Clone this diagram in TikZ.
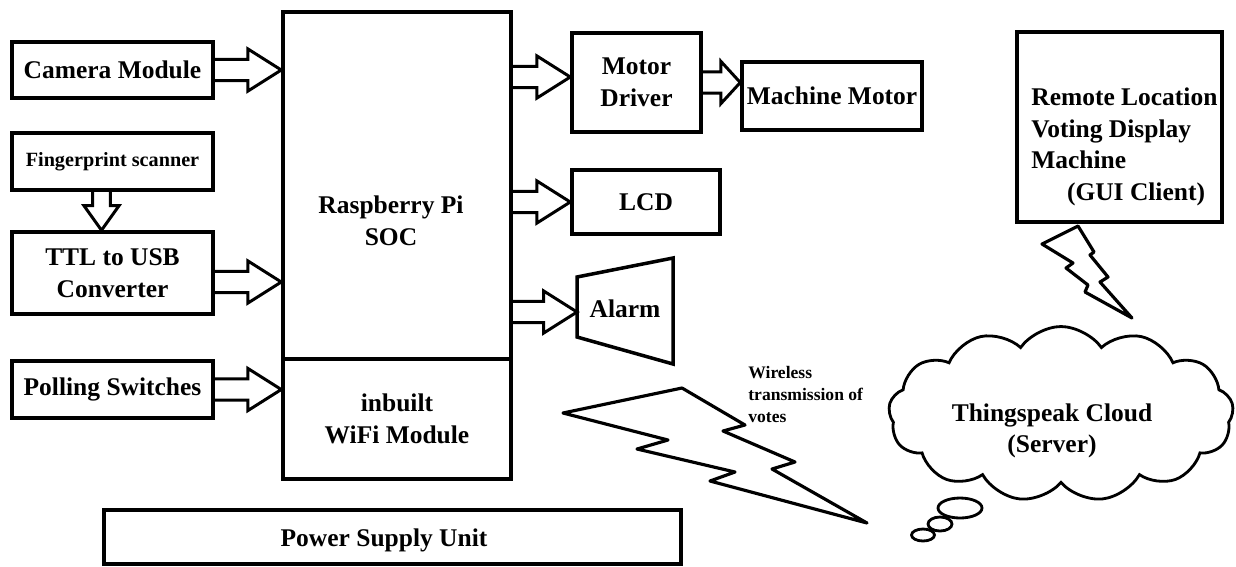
\documentclass[tikz,border=0pt]{standalone}
\usepackage{fontspec}
\setmainfont{Liberation Serif}
\usetikzlibrary{calc,shapes.symbols}

% hollow block arrow, #2 = start, #3 = tip (horizontal), #1 = head length
\newcommand{\harrow}[3][19pt]{%
  \draw[blockarrow] let \p1=(#2), \p2=(#3) in
    (\x1,\y1+6pt) -- (\x2-#1,\y1+6pt) -- (\x2-#1,\y1+12pt) -- (\x2,\y1)
    -- (\x2-#1,\y1-12pt) -- (\x2-#1,\y1-6pt) -- (\x1,\y1-6pt);}
% same, pointing down
\newcommand{\varrow}[2]{%
  \draw[blockarrow] let \p1=(#1), \p2=(#2) in
    (\x1-5pt,\y1) -- (\x1-5pt,\y2+14pt) -- (\x1-10pt,\y2+14pt) -- (\x2,\y2)
    -- (\x1+10pt,\y2+14pt) -- (\x1+5pt,\y2+14pt) -- (\x1+5pt,\y1);}

\begin{document}
\begin{tikzpicture}[
  x=0.02cm, y=-0.02cm,
  font=\bfseries\fontsize{14.5}{18}\selectfont,
  every node/.style={align=center, inner sep=0pt},
  box/.style={draw, line width=2pt, minimum width=4.02cm},
  blockarrow/.style={line width=1.7pt},
  bolt/.style={line width=1.8pt, line join=round},
]
\useasboundingbox (0,0) rectangle (1236,566);

% inputs
\node[box, minimum height=1.12cm] (cam) at (112.5,70) {Camera Module};
\node[box, minimum height=1.14cm, font=\bfseries\fontsize{11.5}{14}\selectfont] (fp) at (112.5,161.5) {Fingerprint scanner};
\node[box, minimum height=1.64cm] (ttl) at (112.5,273) {TTL to USB\\Converter};
\node[box, minimum height=1.14cm] (poll) at (112.5,389.5) {Polling Switches};

% controller
\node[box, minimum width=4.56cm, minimum height=6.94cm] (rpi) at (397,185.5) {};
\node[box, minimum width=4.56cm, minimum height=2.4cm] (wifi) at (397,419) {};
\node (rpitxt) at (391,221) {Raspberry Pi\\SOC};
\node (wifitxt) at (397,419) {inbuilt\\WiFi Module};

% outputs
\node[box, minimum width=2.58cm, minimum height=1.98cm] (drv) at (636.5,82.5) {Motor\\Driver};
\node[box, minimum width=3.6cm, minimum height=1.36cm] (motor) at (832,96) {Machine Motor};
\node[box, minimum width=2.96cm, minimum height=1.28cm] (lcd) at (646,202) {LCD};
\node (alarm) at (625,309) {Alarm};
\draw[line width=2pt] ([shift={(-48,-32)}]alarm.center) -- ([shift={(48,-51)}]alarm.center)
  -- ([shift={(48,55)}]alarm.center) -- ([shift={(-48,28)}]alarm.center) -- cycle;
\coordinate (alarmin) at ([shift={(-48,3)}]alarm.center);

\node[box, minimum width=11.54cm, minimum height=1.08cm] (psu) at (392.5,537) {};
\node (psutxt) at (384,540) {Power Supply Unit};

% remote side
\node[box, minimum width=4.1cm, minimum height=3.8cm] (remote) at (1119.5,127) {};
\node[align=left, anchor=west] (remotetxt) at (1031,147) {Remote Location\\Voting Display\\Machine\\\hspace{1.4em}(GUI Client)};
\node[cloud, draw, line width=1.6pt, cloud puffs=13, cloud puff arc=110, aspect=2,
  minimum width=6.9cm, minimum height=3.5cm] (cloud) at (1061,414) {};
\node (cloudtxt) at (1052,431) {Thingspeak Cloud\\(Server)};
\draw[line width=1.6pt] (960,508) ellipse [x radius=0.44cm, y radius=0.2cm];
\draw[line width=1.6pt] (940,524) ellipse [x radius=0.24cm, y radius=0.14cm];
\draw[line width=1.6pt] (923,535) ellipse [x radius=0.23cm, y radius=0.12cm];
\node[align=left, anchor=north west, font=\bfseries\fontsize{10}{12.5}\selectfont] (wltxt) at (748,366) {Wireless\\transmission of\\votes};

% block arrows
\harrow{cam.east}{cam.east -| rpi.west}
\coordinate (ttlout) at ([yshift=-0.18cm]ttl.east);
\harrow{ttlout}{ttlout -| rpi.west}
\harrow{poll.east}{poll.east -| wifi.west}
\coordinate (fpout) at ([xshift=-0.22cm]fp.south);
\varrow{fpout}{fpout |- ttl.north}
\coordinate (drvin) at ([yshift=0.11cm]drv.west);
\harrow{rpi.east |- drvin}{drvin}
\harrow[11pt]{drv.east}{drv.east -| motor.west}
\harrow{rpi.east |- lcd.west}{lcd.west}
\harrow{rpi.east |- alarmin}{alarmin}

% wireless links
\draw[bolt] (563,413) -- (682,388) -- (745,425) -- (723,431) -- (795,462) -- (772,469)
  -- (867,523) -- (710,481) -- (735,472) -- (637,449) -- (668,440) -- cycle;
\draw[bolt] (1078,226) -- (1042,244) -- (1073,263) -- (1066,268) -- (1088,285) -- (1085,292)
  -- (1132,318) -- (1100,282) -- (1108,277) -- (1090,255) -- (1094,252) -- cycle;
\end{tikzpicture}
\end{document}
